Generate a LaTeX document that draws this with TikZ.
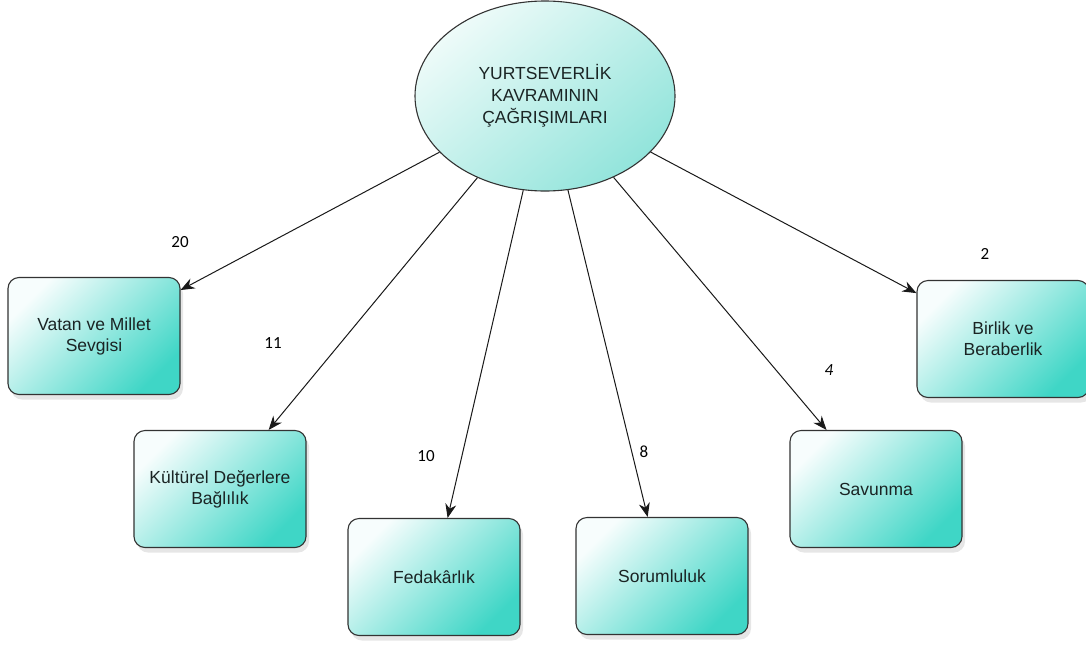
\documentclass[tikz,border=0pt]{standalone}
\usepackage{fontspec}
\setmainfont{Liberation Sans}
\newfontfamily\numfont{Carlito}
\usetikzlibrary{arrows.meta,shadows,shapes.geometric}
\definecolor{tealdark}{HTML}{3FD6C6}
\definecolor{teallight}{HTML}{F7FDFD}
\definecolor{ellA}{HTML}{EEFBF9}
\definecolor{ellB}{HTML}{92E4DB}
\definecolor{edge}{HTML}{333333}
\definecolor{txt}{HTML}{1A2424}
\tikzset{
  concept/.style={draw=edge, line width=1.1pt, rounded corners=11pt,
    minimum width=172pt, minimum height=117pt, align=center,
    font=\fontsize{17.5}{21}\selectfont, text=txt,
    top color=teallight, middle color=tealdark!38!white, bottom color=tealdark,
    shading angle=45,
    drop shadow={opacity=0.2, shadow xshift=3pt, shadow yshift=-5pt}},
  hub/.style={ellipse, draw=edge, line width=1.1pt, minimum width=260pt,
    minimum height=190pt, inner sep=0pt, align=center,
    font=\fontsize{17.5}{22}\selectfont, text=txt,
    top color=ellA, middle color=ellB!55!ellA, bottom color=ellB, shading angle=40},
  link/.style={draw=black!90, line width=1pt, -{Stealth[length=14pt,width=11pt]}},
  count/.style={font=\numfont\fontsize{17}{20}\selectfont, text=black}
}
\begin{document}
\begin{tikzpicture}[x=1pt,y=-1pt]
\useasboundingbox (0,0) rectangle (1086,646);
\node[hub] (c) at (545,96) {YURTSEVERLİK\\KAVRAMININ\\ÇAĞRIŞIMLARI};
\node[concept] (vatan) at (94,336) {Vatan ve Millet\\Sevgisi};
\node[concept] (kultur) at (220,489) {Kültürel Değerlere\\Bağlılık};
\node[concept] (feda) at (434,577) {Fedakârlık};
\node[concept] (sorum) at (662,576) {Sorumluluk};
\node[concept] (savun) at (876,489) {Savunma};
\node[concept] (birlik) at (1003,339) {Birlik ve\\Beraberlik};
\draw[link] (c) -- (vatan);
\draw[link] (c) -- (kultur);
\draw[link] (c) -- (feda);
\draw[link] (c) -- (sorum);
\draw[link] (c) -- (savun);
\draw[link] (c) -- (birlik);
\node[count] (n20) at (180,242) {20};
\node[count] (n11) at (273,343) {11};
\node[count] (n10) at (426,456) {10};
\node[count] (n8) at (644,452) {8};
\node[count] (n4) at (829,370) {\itshape 4};
\node[count] (n2) at (985,254) {2};
\end{tikzpicture}
\end{document}
